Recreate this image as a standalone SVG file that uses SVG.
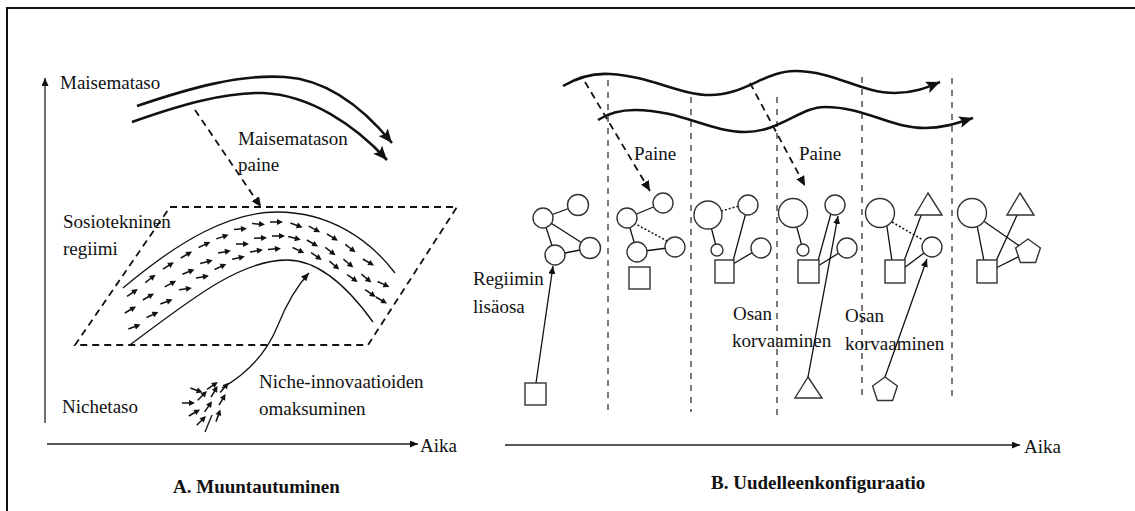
<svg xmlns="http://www.w3.org/2000/svg" xmlns:xlink="http://www.w3.org/1999/xlink" width="1135" height="511" viewBox="0 0 1135 511" font-family="'Liberation Serif', 'DejaVu Serif', serif">
  <style>
    text { font-family: 'Liberation Serif', 'DejaVu Serif', serif; font-size: 19px; fill: #111; }
    .title { font-weight: bold; }
    .ln { stroke: #111; stroke-width: 1.3; fill: none; }
    .thick { stroke: #111; stroke-width: 2.6; fill: none; }
    .dash { stroke: #111; stroke-width: 1.8; fill: none; stroke-dasharray: 7 5; }
    .vdash { stroke: #333; stroke-width: 1.3; fill: none; stroke-dasharray: 6 6; }
    .dot { stroke: #111; stroke-width: 1.5; fill: none; stroke-dasharray: 2 2; }
    .shape { stroke: #333; stroke-width: 1.4; fill: #fff; }
    .axis { stroke: #222; stroke-width: 1.3; fill: none; }
  </style>
  <defs>
    <marker id="bigHead" markerUnits="userSpaceOnUse" markerWidth="16" markerHeight="14" refX="14" refY="6" orient="auto">
      <path d="M0,0 L14,6 L0,12 L3,6 Z" fill="#111"/>
    </marker>
    <marker id="midHead" markerUnits="userSpaceOnUse" markerWidth="12" markerHeight="10" refX="10" refY="4.5" orient="auto">
      <path d="M0,0 L10,4.5 L0,9 Z" fill="#111"/>
    </marker>
    <marker id="smallHead" markerUnits="userSpaceOnUse" markerWidth="9" markerHeight="8" refX="8" refY="3.5" orient="auto">
      <path d="M0,0 L8,3.5 L0,7 Z" fill="#111"/>
    </marker>
    <!-- short flow arrow used inside the regime band and the niche cluster -->
    <g id="flow">
      <line x1="-6" y1="0" x2="2" y2="0" stroke="#111" stroke-width="1.5"/>
      <path d="M7,0 L1,-3 L1,3 Z" fill="#111"/>
    </g>
  </defs>

  <!-- page frame -->
  <rect x="7" y="8" width="1150" height="530" fill="none" stroke="#111" stroke-width="2"/>

  <!-- ========== Panel A ========== -->
  <g id="axesA">
    <line class="axis" x1="45" y1="423" x2="45" y2="78" marker-end="url(#smallHead)"/>
    <line class="axis" x1="47" y1="444" x2="418" y2="444" marker-end="url(#smallHead)"/>
    <text x="420" y="452">Aika</text>
  </g>

  <g id="landscape">
    <text x="60" y="89">Maisemataso</text>
    <path class="thick" d="M137,106 C190,88 240,74 285,77 C330,80 365,110 392,143" marker-end="url(#bigHead)"/>
    <path class="thick" d="M132,122 C180,105 225,92 263,93 C310,95 355,125 387,160" marker-end="url(#bigHead)"/>
  </g>

  <g id="landscapePressure">
    <line class="dash" x1="195" y1="110" x2="261" y2="207" marker-end="url(#midHead)"/>
    <text x="238" y="145">Maisematason</text>
    <text x="238" y="171">paine</text>
  </g>

  <g id="regime">
    <polygon class="dash" points="170,207 457,207 368,345 75,345"/>
    <text x="63" y="228">Sosiotekninen</text>
    <text x="63" y="255">regiimi</text>
    <path class="ln" stroke-width="1.8" d="M123,288 C180,240 230,212 277,212 C330,212 370,240 395,273"/>
    <path class="ln" stroke-width="1.8" d="M130,345 C190,300 240,260 287,260 C320,260 350,290 373,322"/>
    <g id="regimeFlow">
      <use xlink:href="#flow" transform="translate(132,293) rotate(-35)"/>
      <use xlink:href="#flow" transform="translate(130,310) rotate(-30)"/>
      <use xlink:href="#flow" transform="translate(134,327) rotate(-20)"/>
      <use xlink:href="#flow" transform="translate(150,279) rotate(-38)"/>
      <use xlink:href="#flow" transform="translate(148,297) rotate(-30)"/>
      <use xlink:href="#flow" transform="translate(152,315) rotate(-25)"/>
      <use xlink:href="#flow" transform="translate(168,266) rotate(-32)"/>
      <use xlink:href="#flow" transform="translate(170,284) rotate(-28)"/>
      <use xlink:href="#flow" transform="translate(166,302) rotate(-20)"/>
      <use xlink:href="#flow" transform="translate(186,255) rotate(-30)"/>
      <use xlink:href="#flow" transform="translate(188,272) rotate(-22)"/>
      <use xlink:href="#flow" transform="translate(185,289) rotate(-8)"/>
      <use xlink:href="#flow" transform="translate(204,245) rotate(-25)"/>
      <use xlink:href="#flow" transform="translate(206,262) rotate(-15)"/>
      <use xlink:href="#flow" transform="translate(202,277) rotate(-10)"/>
      <use xlink:href="#flow" transform="translate(222,237) rotate(-18)"/>
      <use xlink:href="#flow" transform="translate(224,252) rotate(-10)"/>
      <use xlink:href="#flow" transform="translate(220,267) rotate(-25)"/>
      <use xlink:href="#flow" transform="translate(240,229) rotate(-5)"/>
      <use xlink:href="#flow" transform="translate(242,244) rotate(0)"/>
      <use xlink:href="#flow" transform="translate(238,258) rotate(-12)"/>
      <use xlink:href="#flow" transform="translate(258,224) rotate(5)"/>
      <use xlink:href="#flow" transform="translate(260,238) rotate(-3)"/>
      <use xlink:href="#flow" transform="translate(256,251) rotate(-10)"/>
      <use xlink:href="#flow" transform="translate(276,222) rotate(0)"/>
      <use xlink:href="#flow" transform="translate(278,236) rotate(0)"/>
      <use xlink:href="#flow" transform="translate(274,249) rotate(-5)"/>
      <use xlink:href="#flow" transform="translate(296,225) rotate(20)"/>
      <use xlink:href="#flow" transform="translate(294,238) rotate(15)"/>
      <use xlink:href="#flow" transform="translate(298,250) rotate(25)"/>
      <use xlink:href="#flow" transform="translate(314,229) rotate(28)"/>
      <use xlink:href="#flow" transform="translate(312,243) rotate(30)"/>
      <use xlink:href="#flow" transform="translate(316,256) rotate(35)"/>
      <use xlink:href="#flow" transform="translate(332,237) rotate(32)"/>
      <use xlink:href="#flow" transform="translate(330,251) rotate(38)"/>
      <use xlink:href="#flow" transform="translate(334,265) rotate(40)"/>
      <use xlink:href="#flow" transform="translate(350,248) rotate(38)"/>
      <use xlink:href="#flow" transform="translate(348,263) rotate(40)"/>
      <use xlink:href="#flow" transform="translate(352,278) rotate(35)"/>
      <use xlink:href="#flow" transform="translate(368,262) rotate(30)"/>
      <use xlink:href="#flow" transform="translate(366,278) rotate(40)"/>
      <use xlink:href="#flow" transform="translate(370,293) rotate(35)"/>
      <use xlink:href="#flow" transform="translate(383,284) rotate(25)"/>
      <use xlink:href="#flow" transform="translate(381,300) rotate(30)"/>
    </g>
  </g>

  <g id="niche">
    <text x="62" y="413">Nichetaso</text>
    <text x="259" y="388">Niche-innovaatioiden</text>
    <text x="259" y="415">omaksuminen</text>
    <path class="ln" stroke-width="1.4" d="M222,388 C250,372 268,350 278,325 C288,300 298,285 309,273" marker-end="url(#smallHead)"/>
    <line class="ln" x1="212" y1="415" x2="205" y2="432"/>
    <g id="nicheFlow">
      <use xlink:href="#flow" transform="translate(188,403) rotate(0)"/>
      <use xlink:href="#flow" transform="translate(194,413) rotate(-30)"/>
      <use xlink:href="#flow" transform="translate(202,396) rotate(-45)"/>
      <use xlink:href="#flow" transform="translate(208,407) rotate(-55)"/>
      <use xlink:href="#flow" transform="translate(214,392) rotate(-60)"/>
      <use xlink:href="#flow" transform="translate(218,416) rotate(-70)"/>
      <use xlink:href="#flow" transform="translate(201,421) rotate(-45)"/>
      <use xlink:href="#flow" transform="translate(222,400) rotate(-60)"/>
      <use xlink:href="#flow" transform="translate(212,386) rotate(-35)"/>
      <use xlink:href="#flow" transform="translate(196,390) rotate(20)"/>
      <use xlink:href="#flow" transform="translate(224,388) rotate(-50)"/>
    </g>
  </g>

  <text class="title" x="173" y="493">A. Muuntautuminen</text>

  <!-- ========== Panel B ========== -->
  <g id="axesB">
    <line class="axis" x1="505" y1="445" x2="1020" y2="445" marker-end="url(#smallHead)"/>
    <text x="1024" y="453">Aika</text>
  </g>

  <g id="phaseDividers">
    <line class="vdash" x1="608" y1="80" x2="608" y2="410"/>
    <line class="vdash" x1="691" y1="97" x2="691" y2="412"/>
    <line class="vdash" x1="777" y1="97" x2="777" y2="415"/>
    <line class="vdash" x1="862" y1="77" x2="862" y2="400"/>
    <line class="vdash" x1="952" y1="78" x2="952" y2="402"/>
  </g>

  <g id="landscapeWaves">
    <path class="thick" d="M563,86 C580,76 595,73 610,74 C650,76 680,95 710,95 C745,95 765,71 795,71 C835,71 860,93 895,93 C915,93 928,87 940,82" marker-end="url(#bigHead)"/>
    <path class="thick" d="M598,120 C610,112 622,110 635,110 C680,110 710,132 745,132 C780,132 800,107 825,107 C865,107 890,128 925,128 C945,128 960,122 973,118" marker-end="url(#bigHead)"/>
  </g>

  <g id="connectors">
    <!-- pressure arrows -->
    <line class="dash" x1="585" y1="82" x2="650" y2="191" marker-end="url(#midHead)"/>
    <line class="dash" x1="750" y1="83" x2="805" y2="186" marker-end="url(#midHead)"/>
    <!-- phase 1 -->
    <line class="ln" x1="543" y1="218" x2="578" y2="205"/>
    <line class="ln" x1="543" y1="218" x2="555" y2="255"/>
    <line class="ln" x1="543" y1="218" x2="590" y2="248"/>
    <line class="ln" x1="555" y1="255" x2="590" y2="248"/>
    <line class="ln" x1="536" y1="383" x2="553" y2="266" marker-end="url(#smallHead)"/>
    <!-- phase 2 -->
    <line class="ln" x1="627" y1="218" x2="663" y2="203"/>
    <line class="ln" x1="627" y1="218" x2="637" y2="252"/>
    <line class="dot" x1="634" y1="223" x2="667" y2="241"/>
    <line class="ln" x1="637" y1="252" x2="675" y2="247"/>
    <!-- phase 3 -->
    <line class="dot" x1="721" y1="211" x2="739" y2="206"/>
    <line class="ln" x1="708" y1="215" x2="717" y2="250"/>
    <line class="ln" x1="748" y1="205" x2="733" y2="261"/>
    <line class="ln" x1="733" y1="264" x2="760" y2="248"/>
    <!-- phase 4 -->
    <line class="ln" x1="793" y1="213" x2="803" y2="250"/>
    <line class="ln" x1="818" y1="261" x2="833" y2="206"/>
    <line class="ln" x1="818" y1="266" x2="847" y2="248"/>
    <line class="ln" x1="808" y1="377" x2="838" y2="216" marker-end="url(#smallHead)"/>
    <!-- phase 5 -->
    <line class="dot" x1="892" y1="222" x2="923" y2="240"/>
    <line class="ln" x1="886" y1="220" x2="892" y2="261"/>
    <line class="ln" x1="904" y1="261" x2="922" y2="213"/>
    <line class="ln" x1="904" y1="268" x2="932" y2="247"/>
    <line class="ln" x1="885" y1="377" x2="927" y2="259" marker-end="url(#smallHead)"/>
    <!-- phase 6 -->
    <line class="ln" x1="976" y1="220" x2="984" y2="261"/>
    <line class="ln" x1="972" y1="213" x2="1028" y2="252"/>
    <line class="ln" x1="996" y1="261" x2="1018" y2="213"/>
    <line class="ln" x1="996" y1="268" x2="1028" y2="252"/>
  </g>

  <g id="phase1">
    <circle class="shape" cx="543" cy="218" r="10"/>
    <circle class="shape" cx="578" cy="205" r="10.5"/>
    <circle class="shape" cx="555" cy="255" r="10"/>
    <circle class="shape" cx="590" cy="248" r="10.5"/>
    <rect class="shape" x="525" y="383" width="21" height="22"/>
    <text x="473" y="285">Regiimin</text>
    <text x="473" y="313">lisäosa</text>
  </g>

  <g id="phase2">
    <text x="634" y="160">Paine</text>
    <circle class="shape" cx="627" cy="218" r="10"/>
    <circle class="shape" cx="663" cy="203" r="10"/>
    <circle class="shape" cx="637" cy="252" r="10"/>
    <circle class="shape" cx="675" cy="247" r="10"/>
    <rect class="shape" x="629" y="267" width="21" height="22"/>
  </g>

  <g id="phase3">
    <circle class="shape" cx="708" cy="215" r="14"/>
    <circle class="shape" cx="748" cy="205" r="10"/>
    <circle class="shape" cx="717" cy="250" r="6"/>
    <circle class="shape" cx="761" cy="248" r="10"/>
    <rect class="shape" x="715" y="260" width="19" height="23"/>
    <text x="733" y="320">Osan</text>
    <text x="732" y="347">korvaaminen</text>
  </g>

  <g id="phase4">
    <text x="799" y="160">Paine</text>
    <circle class="shape" cx="793" cy="213" r="14.5"/>
    <circle class="shape" cx="835" cy="205" r="10"/>
    <circle class="shape" cx="803" cy="250" r="6"/>
    <circle class="shape" cx="847" cy="248" r="10"/>
    <rect class="shape" x="798" y="260" width="21" height="23"/>
    <polygon class="shape" points="808,377 822,398 795,398"/>
  </g>

  <g id="phase5">
    <circle class="shape" cx="880" cy="213" r="14.5"/>
    <polygon class="shape" points="928,193 942,215 915,215"/>
    <circle class="shape" cx="932" cy="247" r="10"/>
    <rect class="shape" x="885" y="260" width="20" height="23"/>
    <polygon class="shape" points="885,377 897.4,386 892.6,400.5 877.4,400.5 872.6,386"/>
    <text x="845" y="322">Osan</text>
    <text x="845" y="350">korvaaminen</text>
  </g>

  <g id="phase6">
    <circle class="shape" cx="972" cy="213" r="14.5"/>
    <polygon class="shape" points="1020,193 1034,215 1007,215"/>
    <polygon class="shape" points="1028,239 1040.4,248 1035.6,262.5 1020.4,262.5 1015.6,248"/>
    <rect class="shape" x="977" y="260" width="20" height="23"/>
  </g>

  <text class="title" x="711" y="489">B. Uudelleenkonfiguraatio</text>
</svg>
